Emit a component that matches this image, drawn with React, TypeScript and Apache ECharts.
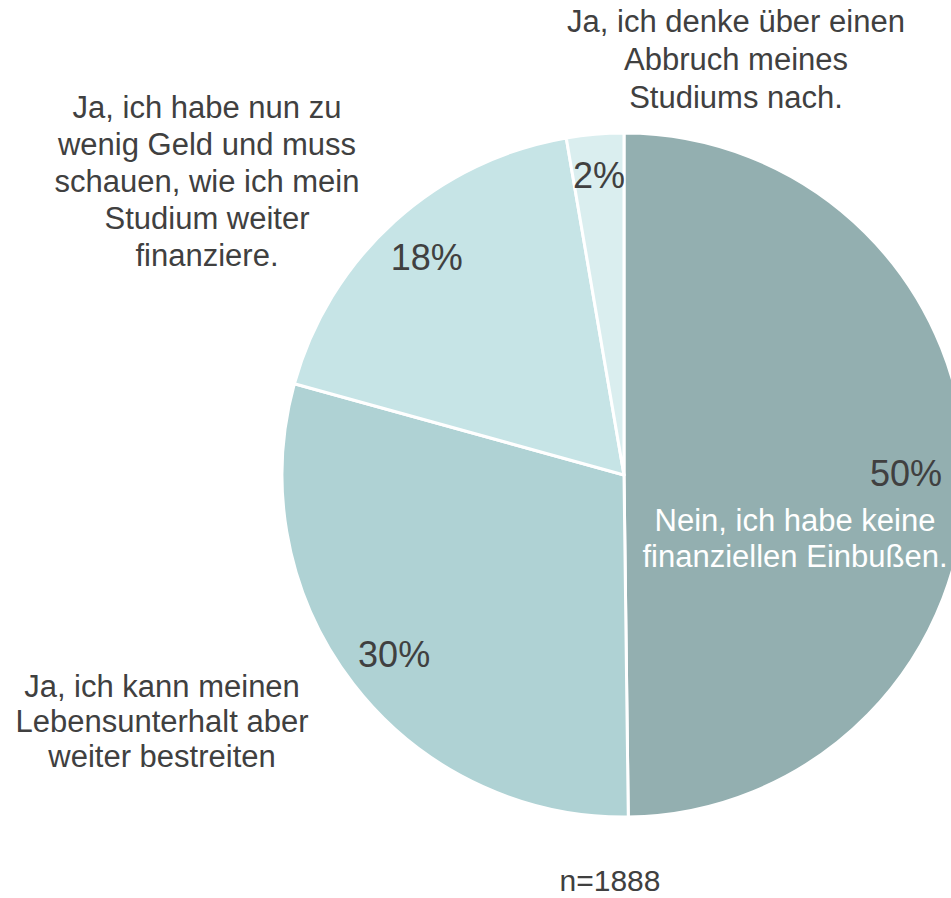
import React, { useEffect, useRef } from "react";
import * as echarts from "echarts";

const categories = [
  "Nein, ich habe keine\nfinanziellen Einbußen.",
  "Ja, ich kann meinen\nLebensunterhalt aber\nweiter bestreiten",
  "Ja, ich habe nun zu\nwenig Geld und muss\nschauen, wie ich mein\nStudium weiter\nfinanziere.",
  "Ja, ich denke über einen\nAbbruch meines\nStudiums nach.",
];
const values = [49.8, 29.5, 18.0, 2.7];
const pctLabels = ["50%", "30%", "18%", "2%"];
const colors = ["#93AFB0", "#AFD2D4", "#C6E4E6", "#DAEEEF"];
const sampleNote = "n=1888";

const FONT = "'Liberation Sans', Arial, sans-serif";
const TEXT = "#404040";

// label anchor centers per slice (layout only)
const labelCenters = [
  [795, 538],
  [162, 721],
  [207, 181],
  [736, 59],
];
const labelLineHeights = [36, 35, 37, 38];
// small nudges of the percentage labels (layout only)
const pctNudges = [
  [-12, 0],
  [3, 0],
  [0, 1],
  [0, -7],
];

export default function App() {
  const ref = useRef<HTMLDivElement>(null);
  useEffect(() => {
    if (!ref.current) return;
    const chart = echarts.init(ref.current, undefined, { renderer: "svg" });
    chart.setOption({
      animation: false,
      backgroundColor: "#ffffff",
      series: [
        {
          type: "pie",
          center: [624, 475],
          radius: [0, 342],
          startAngle: 90,
          clockwise: true,
          avoidLabelOverlap: false,
          silent: true,
          itemStyle: { borderColor: "#ffffff", borderWidth: 3 },
          label: {
            show: true,
            position: "outside",
            formatter: "{b}",
            fontFamily: FONT,
            fontSize: 31,
            color: TEXT,
            align: "center",
          },
          labelLine: { show: false },
          labelLayout: (p: any) => {
            const c = labelCenters[p.dataIndex];
            return { x: c[0], y: c[1], align: "center", verticalAlign: "middle" };
          },
          data: categories.map((name, i) => ({
            name,
            value: values[i],
            itemStyle: { color: colors[i] },
            label: {
              color: i === 0 ? "#ffffff" : TEXT,
              lineHeight: labelLineHeights[i],
            },
          })),
        },
        {
          type: "pie",
          center: [624, 475],
          radius: [240, 342],
          startAngle: 90,
          clockwise: true,
          avoidLabelOverlap: false,
          silent: true,
          itemStyle: { color: "rgba(0,0,0,0)", borderWidth: 0 },
          label: {
            show: true,
            position: "inside",
            formatter: (p: any) => pctLabels[p.dataIndex],
            fontFamily: FONT,
            fontSize: 36,
            color: TEXT,
          },
          labelLayout: (p: any) => {
            const n = pctNudges[p.dataIndex];
            return { dx: n[0], dy: n[1] };
          },
          labelLine: { show: false },
          data: categories.map((name, i) => ({ name, value: values[i] })),
        },
      ],
      graphic: [
        {
          type: "text",
          x: 610,
          y: 880,
          style: {
            text: sampleNote,
            fontFamily: FONT,
            fontSize: 30,
            lineHeight: 30,
            fill: TEXT,
            align: "center",
            verticalAlign: "middle",
          },
        },
      ],
    });
    return () => chart.dispose();
  }, []);
  return (
    <div
      ref={ref}
      style={{ position: "fixed", left: 0, top: 0, width: 951, height: 898 }}
    />
  );
}
